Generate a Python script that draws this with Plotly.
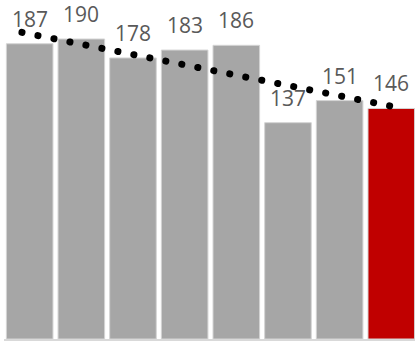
import plotly.graph_objects as go

# Data
categories = [0, 1, 2, 3, 4, 5, 6, 7]
values = [187, 190, 178, 183, 186, 137, 151, 146]
bar_colors = ["#a6a6a6"] * 7 + ["#c00000"]
# Trend line (dotted), endpoints
trend_x = [-0.15, 7.27]
trend_y = [194.2, 145.7]

fig = go.Figure()
fig.add_trace(go.Bar(
    x=categories, y=values,
    marker=dict(color=bar_colors, line=dict(color="#d4d4d4", width=1)),
    hoverinfo="skip", showlegend=False,
))
fig.add_trace(go.Scatter(
    x=trend_x, y=trend_y, mode="lines",
    line=dict(color="#000000", width=7, dash="0.1px,16.2px"),
    hoverinfo="skip", showlegend=False,
))

for xv, v in zip(categories, values):
    fig.add_annotation(
        x=xv, y=v, text=str(v), showarrow=False,
        xanchor="center", yanchor="bottom", yshift=9,
        font=dict(family="Open Sans", size=21, color="#595959"),
    )

fig.update_layout(
    width=415, height=344,
    margin=dict(l=4, r=0, t=0, b=5),
    paper_bgcolor="white", plot_bgcolor="white",
    bargap=0.098,
    xaxis=dict(range=[-0.497, 7.459], showticklabels=False, showgrid=False,
               zeroline=False, showline=True, linecolor="#d9d9d9", linewidth=2,
               ticks=""),
    yaxis=dict(range=[0, 214.7], showticklabels=False, showgrid=False,
               zeroline=False, showline=False, ticks=""),
)

post = """
document.body.style.margin = '0';
document.body.style.padding = '0';
var s = document.createElement('style');
s.innerHTML = 'body{margin:0;padding:0;} .js-line { stroke-linecap: round !important; }';
document.head.appendChild(s);
"""
fig.write_html("out.html", post_script=post, config={"displayModeBar": False})
